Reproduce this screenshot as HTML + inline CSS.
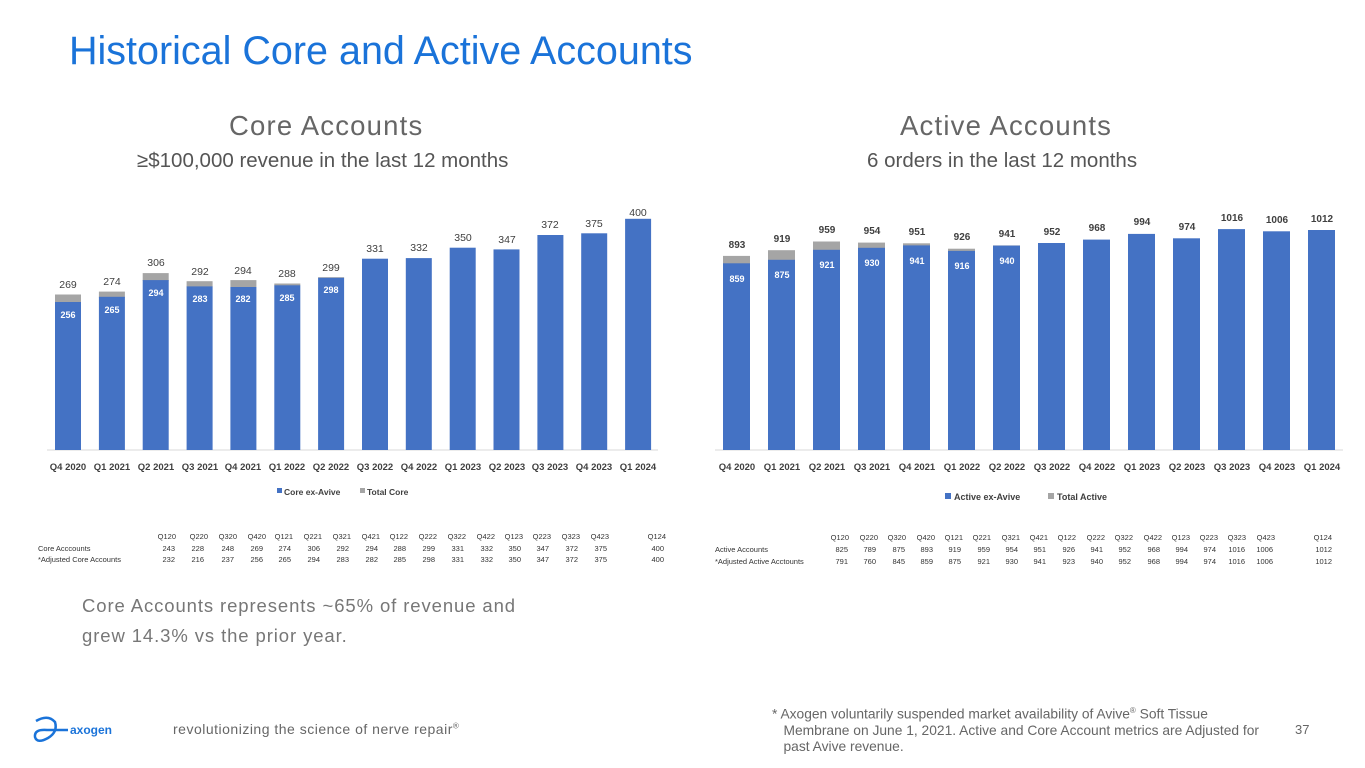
<!DOCTYPE html>
<html><head><meta charset="utf-8"><style>
body{margin:0;width:1365px;height:768px;background:#fff;overflow:hidden;font-family:"Liberation Sans",sans-serif;position:relative}
.a{position:absolute;white-space:nowrap}
</style></head><body>
<div class="a" style="left:69px;top:29px;font-size:39.5px;color:#1a73d9">Historical Core and Active Accounts</div>
<div class="a" style="left:229px;top:110px;font-size:27.5px;color:#666;letter-spacing:1.2px">Core Accounts</div>
<div class="a" style="left:137px;top:149px;font-size:20.5px;color:#555">≥$100,000 revenue in the last 12 months</div>
<div class="a" style="left:900px;top:110px;font-size:27.5px;color:#666;letter-spacing:1.2px">Active Accounts</div>
<div class="a" style="left:867px;top:149px;font-size:20.5px;color:#555">6 orders in the last 12 months</div>
<div class="a" style="left:82px;top:591px;font-size:18.5px;color:#777;line-height:30px;letter-spacing:.9px">Core Accounts represents ~65% of revenue and<br>grew 14.3% vs the prior year.</div>
<div class="a" style="left:173px;top:721px;font-size:14px;color:#666;letter-spacing:.5px">revolutionizing the science of nerve repair<sup style="font-size:8px">®</sup></div>
<div class="a" style="left:772px;top:703px;font-size:13.8px;color:#666;line-height:16px">* Axogen voluntarily suspended market availability of Avive<sup style="font-size:8px">®</sup> Soft Tissue<br>&nbsp;&nbsp;&nbsp;Membrane on June 1, 2021. Active and Core Account metrics are Adjusted for<br>&nbsp;&nbsp;&nbsp;past Avive revenue.</div>
<div class="a" style="left:1295px;top:722px;font-size:13px;color:#666">37</div>
<svg class="a" style="left:0;top:0" width="1365" height="768">
<g fill="none" stroke="#1a73d9" stroke-width="2.5"><path d="M36 721 Q48 714 55 722 Q58 732 48 738 Q37 744 35 737 Q34 729 47 730 L68 730"/></g>
<text x="70" y="734" font-size="12" font-weight="bold" fill="#1a73d9">axogen</text>
<g font-family="Liberation Sans,sans-serif">
<line x1="47" y1="450" x2="658" y2="450" stroke="#d9d9d9"/>
<g fill="#a5a5a5">
<rect x="55" y="294.5" width="26" height="8"/><rect x="98.9" y="291.6" width="26" height="6"/><rect x="142.7" y="273.1" width="26" height="8"/><rect x="186.6" y="281.2" width="26" height="6"/><rect x="230.4" y="280.1" width="26" height="7"/><rect x="274.3" y="283.5" width="26" height="2"/><rect x="318.1" y="277.2" width="26" height="1"/>
</g>
<g fill="#4472c4">
<rect x="55" y="302" width="26" height="148"/><rect x="98.9" y="296.8" width="26" height="153.2"/><rect x="142.7" y="280.1" width="26" height="169.9"/><rect x="186.6" y="286.4" width="26" height="163.6"/><rect x="230.4" y="287" width="26" height="163"/><rect x="274.3" y="285.3" width="26" height="164.7"/><rect x="318.1" y="277.8" width="26" height="172.2"/><rect x="362" y="258.7" width="26" height="191.3"/><rect x="405.8" y="258.1" width="26" height="191.9"/><rect x="449.7" y="247.7" width="26" height="202.3"/><rect x="493.5" y="249.4" width="26" height="200.6"/><rect x="537.4" y="235" width="26" height="215"/><rect x="581.2" y="233.3" width="26" height="216.7"/><rect x="625.1" y="218.8" width="26" height="231.2"/>
</g>
<g font-size="10.5" fill="#404040" text-anchor="middle">
<text x="68" y="288">269</text><text x="112" y="285">274</text><text x="156" y="266">306</text><text x="200" y="275">292</text><text x="243" y="274">294</text><text x="287" y="277">288</text><text x="331" y="271">299</text><text x="375" y="252">331</text><text x="419" y="251">332</text><text x="463" y="241">350</text><text x="507" y="243">347</text><text x="550" y="228">372</text><text x="594" y="227">375</text><text x="638" y="216">400</text>
</g>
<g font-size="9" font-weight="bold" fill="#fff" text-anchor="middle">
<text x="68" y="318">256</text><text x="112" y="313">265</text><text x="156" y="296">294</text><text x="200" y="302">283</text><text x="243" y="302">282</text><text x="287" y="301">285</text><text x="331" y="293">298</text>
</g>
<g font-size="9.5" font-weight="bold" fill="#404040" text-anchor="middle">
<text x="68" y="470">Q4 2020</text><text x="112" y="470">Q1 2021</text><text x="156" y="470">Q2 2021</text><text x="200" y="470">Q3 2021</text><text x="243" y="470">Q4 2021</text><text x="287" y="470">Q1 2022</text><text x="331" y="470">Q2 2022</text><text x="375" y="470">Q3 2022</text><text x="419" y="470">Q4 2022</text><text x="463" y="470">Q1 2023</text><text x="507" y="470">Q2 2023</text><text x="550" y="470">Q3 2023</text><text x="594" y="470">Q4 2023</text><text x="638" y="470">Q1 2024</text>
</g>
<rect x="277" y="488" width="5" height="5" fill="#4472c4"/><text x="284" y="495" font-size="8.5" font-weight="bold" fill="#404040">Core ex-Avive</text>
<rect x="360" y="488" width="5" height="5" fill="#a5a5a5"/><text x="367" y="495" font-size="8.5" font-weight="bold" fill="#404040">Total Core</text>

<line x1="715" y1="450" x2="1343" y2="450" stroke="#d9d9d9"/>
<g fill="#a5a5a5">
<rect x="723" y="255.9" width="27" height="8"/><rect x="768" y="250.2" width="27" height="10"/><rect x="813" y="241.5" width="27" height="9"/><rect x="858" y="242.6" width="27" height="6"/><rect x="903" y="243.3" width="27" height="3"/><rect x="948" y="248.7" width="27" height="3"/><rect x="993" y="245.4" width="27" height="1"/>
</g>
<g fill="#4472c4">
<rect x="723" y="263.3" width="27" height="186.7"/><rect x="768" y="259.8" width="27" height="190.2"/><rect x="813" y="249.8" width="27" height="200.2"/><rect x="858" y="247.8" width="27" height="202.2"/><rect x="903" y="245.4" width="27" height="204.6"/><rect x="948" y="250.9" width="27" height="199.1"/><rect x="993" y="245.6" width="27" height="204.4"/><rect x="1038" y="243" width="27" height="207"/><rect x="1083" y="239.6" width="27" height="210.4"/><rect x="1128" y="233.9" width="27" height="216.1"/><rect x="1173" y="238.3" width="27" height="211.7"/><rect x="1218" y="229.1" width="27" height="220.9"/><rect x="1263" y="231.3" width="27" height="218.7"/><rect x="1308" y="230" width="27" height="220"/>
</g>
<g font-size="10" font-weight="bold" fill="#404040" text-anchor="middle">
<text x="737" y="248">893</text><text x="782" y="242">919</text><text x="827" y="233">959</text><text x="872" y="234">954</text><text x="917" y="235">951</text><text x="962" y="240">926</text><text x="1007" y="237">941</text><text x="1052" y="235">952</text><text x="1097" y="231">968</text><text x="1142" y="225">994</text><text x="1187" y="230">974</text><text x="1232" y="221">1016</text><text x="1277" y="223">1006</text><text x="1322" y="222">1012</text>
</g>
<g font-size="9" font-weight="bold" fill="#fff" text-anchor="middle">
<text x="737" y="282">859</text><text x="782" y="278">875</text><text x="827" y="268">921</text><text x="872" y="266">930</text><text x="917" y="264">941</text><text x="962" y="269">916</text><text x="1007" y="264">940</text>
</g>
<g font-size="9.5" font-weight="bold" fill="#404040" text-anchor="middle">
<text x="737" y="470">Q4 2020</text><text x="782" y="470">Q1 2021</text><text x="827" y="470">Q2 2021</text><text x="872" y="470">Q3 2021</text><text x="917" y="470">Q4 2021</text><text x="962" y="470">Q1 2022</text><text x="1007" y="470">Q2 2022</text><text x="1052" y="470">Q3 2022</text><text x="1097" y="470">Q4 2022</text><text x="1142" y="470">Q1 2023</text><text x="1187" y="470">Q2 2023</text><text x="1232" y="470">Q3 2023</text><text x="1277" y="470">Q4 2023</text><text x="1322" y="470">Q1 2024</text>
</g>
<rect x="945" y="493" width="6" height="6" fill="#4472c4"/><text x="954" y="500" font-size="9" font-weight="bold" fill="#404040">Active ex-Avive</text>
<rect x="1048" y="493" width="6" height="6" fill="#a5a5a5"/><text x="1057" y="500" font-size="9" font-weight="bold" fill="#404040">Total Active</text>

<g font-size="7.5" fill="#333" text-anchor="end">
<text x="176" y="539">Q120</text><text x="208" y="539">Q220</text><text x="237" y="539">Q320</text><text x="266" y="539">Q420</text><text x="293" y="539">Q121</text><text x="322" y="539">Q221</text><text x="351" y="539">Q321</text><text x="380" y="539">Q421</text><text x="408" y="539">Q122</text><text x="437" y="539">Q222</text><text x="466" y="539">Q322</text><text x="495" y="539">Q422</text><text x="523" y="539">Q123</text><text x="551" y="539">Q223</text><text x="580" y="539">Q323</text><text x="609" y="539">Q423</text><text x="666" y="539">Q124</text>
<text x="175" y="551">243</text><text x="204" y="551">228</text><text x="234" y="551">248</text><text x="263" y="551">269</text><text x="291" y="551">274</text><text x="320" y="551">306</text><text x="349" y="551">292</text><text x="378" y="551">294</text><text x="406" y="551">288</text><text x="435" y="551">299</text><text x="464" y="551">331</text><text x="493" y="551">332</text><text x="521" y="551">350</text><text x="549" y="551">347</text><text x="578" y="551">372</text><text x="607" y="551">375</text><text x="664" y="551">400</text>
<text x="175" y="562">232</text><text x="204" y="562">216</text><text x="234" y="562">237</text><text x="263" y="562">256</text><text x="291" y="562">265</text><text x="320" y="562">294</text><text x="349" y="562">283</text><text x="378" y="562">282</text><text x="406" y="562">285</text><text x="435" y="562">298</text><text x="464" y="562">331</text><text x="493" y="562">332</text><text x="521" y="562">350</text><text x="549" y="562">347</text><text x="578" y="562">372</text><text x="607" y="562">375</text><text x="664" y="562">400</text>
<text x="849" y="540">Q120</text><text x="878" y="540">Q220</text><text x="906" y="540">Q320</text><text x="935" y="540">Q420</text><text x="963" y="540">Q121</text><text x="991" y="540">Q221</text><text x="1020" y="540">Q321</text><text x="1048" y="540">Q421</text><text x="1076" y="540">Q122</text><text x="1105" y="540">Q222</text><text x="1133" y="540">Q322</text><text x="1162" y="540">Q422</text><text x="1190" y="540">Q123</text><text x="1218" y="540">Q223</text><text x="1246" y="540">Q323</text><text x="1275" y="540">Q423</text><text x="1332" y="540">Q124</text>
<text x="848" y="552">825</text><text x="876" y="552">789</text><text x="905" y="552">875</text><text x="933" y="552">893</text><text x="961" y="552">919</text><text x="990" y="552">959</text><text x="1018" y="552">954</text><text x="1046" y="552">951</text><text x="1075" y="552">926</text><text x="1103" y="552">941</text><text x="1131" y="552">952</text><text x="1160" y="552">968</text><text x="1188" y="552">994</text><text x="1216" y="552">974</text><text x="1245" y="552">1016</text><text x="1273" y="552">1006</text><text x="1332" y="552">1012</text>
<text x="848" y="564">791</text><text x="876" y="564">760</text><text x="905" y="564">845</text><text x="933" y="564">859</text><text x="961" y="564">875</text><text x="990" y="564">921</text><text x="1018" y="564">930</text><text x="1046" y="564">941</text><text x="1075" y="564">923</text><text x="1103" y="564">940</text><text x="1131" y="564">952</text><text x="1160" y="564">968</text><text x="1188" y="564">994</text><text x="1216" y="564">974</text><text x="1245" y="564">1016</text><text x="1273" y="564">1006</text><text x="1332" y="564">1012</text>
</g>
<g font-size="7.5" fill="#333">
<text x="38" y="551">Core Acccounts</text><text x="38" y="562">*Adjusted Core Accounts</text>
<text x="715" y="552">Active Accounts</text><text x="715" y="564">*Adjusted Active Acctounts</text>
</g>
</g>
</svg>
</body></html>
